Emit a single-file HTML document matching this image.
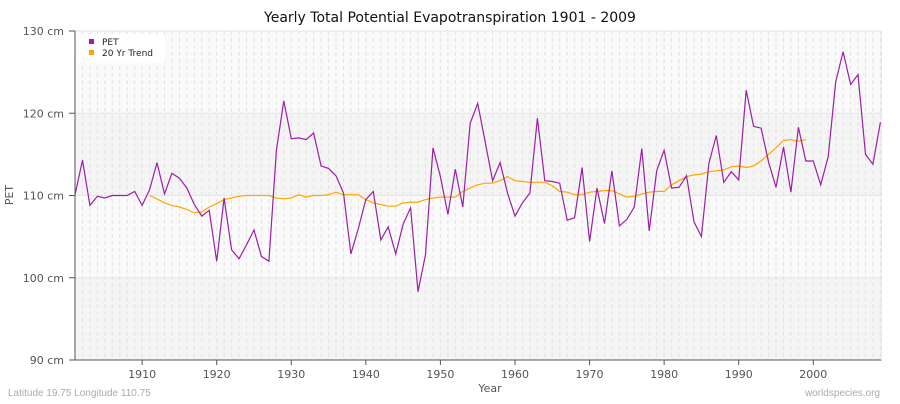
<!DOCTYPE html>
<html><head><meta charset="utf-8"><style>
body{margin:0;background:#fff;font-family:"DejaVu Sans",sans-serif}
svg text{font-family:"DejaVu Sans",sans-serif}
svg text.lib{font-family:"Liberation Sans",sans-serif}
</style></head><body>
<svg id="chart" width="900" height="400" xmlns="http://www.w3.org/2000/svg">
<rect width="900" height="400" fill="#fff"/>
<text x="450" y="22" text-anchor="middle" font-size="14" fill="#111">Yearly Total Potential Evapotranspiration 1901 - 2009</text>
<g id="bands"></g><g id="grid"></g><g id="axes"></g><g id="series"></g>
<text x="490" y="392" text-anchor="middle" font-size="11" fill="#555">Year</text>
<text x="13" y="195" text-anchor="middle" font-size="11" fill="#555" transform="rotate(-90 13 195)">PET</text>
<text class="lib" x="8" y="396" font-size="10" fill="#aaa">Latitude 19.75 Longitude 110.75</text>
<text class="lib" x="880" y="396" text-anchor="end" font-size="10" fill="#aaa">worldspecies.org</text>
<g>
<rect x="79" y="34" width="86" height="29" rx="3" fill="#fff" opacity="0.9"/>
<rect x="89" y="39" width="5" height="5" fill="#9b1fa4"/>
<text x="102" y="45" font-size="9" fill="#222">PET</text>
<rect x="89" y="50" width="5" height="5" fill="#ffa500"/>
<text x="102" y="56" font-size="9" fill="#222">20 Yr Trend</text>
</g>
</svg>
<script>
const startYear=1901;
const petValues=[110.1,114.3,108.8,109.9,109.7,110,110,110,110.5,108.8,110.7,114,110.2,112.7,112.1,110.9,108.9,107.5,108.2,102,109.7,103.4,102.3,104,105.8,102.6,102,115.5,121.5,116.9,117,116.8,117.6,113.6,113.3,112.4,110.3,102.9,106,109.5,110.5,104.6,106.2,102.9,106.5,108.5,98.3,102.8,115.8,112.3,107.7,113.2,108.6,118.8,121.2,116.5,111.8,114,110.3,107.5,109.1,110.3,119.4,111.8,111.7,111.5,107,107.3,113.4,104.4,110.9,106.6,113,106.3,107.1,108.6,115.7,105.7,113,115.5,110.9,111,112.4,106.8,105,113.9,117.3,111.6,112.9,111.9,122.8,118.4,118.2,114.1,111,115.9,110.4,118.3,114.2,114.2,111.3,114.7,123.8,127.5,123.5,124.7,115,113.8,118.9];
const trendStart=1911;
const trendValues=[110,109.6,109.1,108.8,108.6,108.3,107.9,108,108.6,109,109.5,109.7,109.9,110,110,110,110,109.7,109.6,109.7,110.1,109.8,110,110,110.1,110.4,110.1,110.1,110.1,109.5,109.1,108.9,108.7,108.7,109.1,109.2,109.2,109.5,109.7,109.8,109.8,109.8,110.5,110.9,111.3,111.5,111.5,111.8,112.3,111.8,111.7,111.6,111.6,111.6,111.2,110.5,110.4,110.1,110.1,110.4,110.5,110.6,110.6,110.2,109.8,109.9,110.2,110.4,110.5,110.5,111.3,111.8,112.3,112.5,112.6,112.9,113,113.1,113.5,113.6,113.4,113.6,114.2,115,115.8,116.7,116.8,116.6,116.8];
const yTicks=[90,100,110,120,130];
const xTicks=[1910,1920,1930,1940,1950,1960,1970,1980,1990,2000];
const NS="http://www.w3.org/2000/svg";
const L=75,R=880.4,T=31,B=360;
const x=yr=>L+(yr-1901)*(R-L)/108;
const y=v=>T+(130-v)*(B-T)/40;
function mk(tag,attrs,parent){const e=document.createElementNS(NS,tag);for(const k in attrs)e.setAttribute(k,attrs[k]);parent.appendChild(e);return e;}
const bands=document.getElementById('bands'),grid=document.getElementById('grid'),axes=document.getElementById('axes'),series=document.getElementById('series');
const bandFill=['#f4f4f4','#fafafa','#f4f4f4','#fafafa'];
for(let i=0;i<4;i++){const b=mk('rect',{x:L,y:y(yTicks[i+1]),width:R-L+1,height:y(yTicks[i])-y(yTicks[i+1]),fill:bandFill[i]},bands);

}
for(let yr=1901;yr<=2009;yr++){const g=mk('line',{x1:x(yr),x2:x(yr),y1:T,y2:B,stroke:'#e2e2e2','stroke-dasharray':'4,3','stroke-width':1},grid);

}
yTicks.forEach(v=>{const g=mk('line',{x1:L,x2:R+1,y1:y(v),y2:y(v),stroke:'#e6e6e6','stroke-width':1},grid);


const t=mk('line',{x1:L-6,x2:L,y1:y(v),y2:y(v),stroke:'#555'},axes);


const tx=mk('text',{x:L-11,y:y(v)+4,'text-anchor':'end','font-size':11,fill:'#555'},axes);tx.textContent=v+' cm';

});
xTicks.forEach(yr=>{const t=mk('line',{x1:x(yr),x2:x(yr),y1:B,y2:B+5,stroke:'#555'},axes);


const tx=mk('text',{x:x(yr),y:B+18,'text-anchor':'middle','font-size':11,fill:'#555'},axes);tx.textContent=yr;

});
const ya=mk('line',{x1:L,x2:L,y1:T,y2:B,stroke:'#555'},axes);


const xa=mk('line',{x1:L,x2:R+1,y1:B,y2:B,stroke:'#555'},axes);


const rb=mk('line',{x1:R+1,x2:R+1,y1:T,y2:B,stroke:'#e6e6e6'},axes);


const tp=trendValues.map((v,i)=>x(trendStart+i).toFixed(1)+','+y(v).toFixed(1)).join(' ');
const tl=mk('polyline',{points:tp,fill:'none',stroke:'#ffa500','stroke-width':1.2},series);


const pp=petValues.map((v,i)=>x(startYear+i).toFixed(1)+','+y(v).toFixed(1)).join(' ');
const pl=mk('polyline',{points:pp,fill:'none',stroke:'#9b1fa4','stroke-width':1.2},series);


</script>
</body></html>
